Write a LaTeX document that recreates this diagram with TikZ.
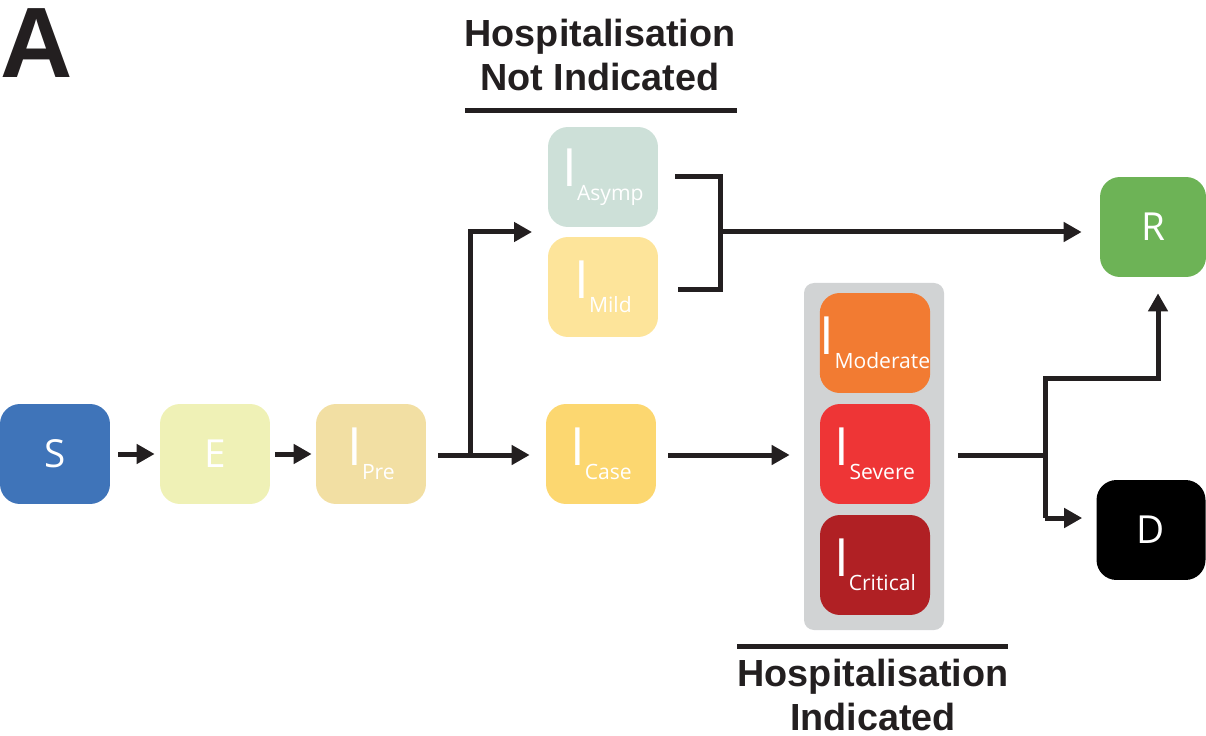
\documentclass[tikz,border=0pt]{standalone}
\usepackage{fontspec}
\setmainfont{Liberation Sans}
\newfontfamily\boxfont{Open Sans}
\usetikzlibrary{arrows.meta,positioning}

\definecolor{colS}{HTML}{3F74B9}
\definecolor{colE}{HTML}{EFF1B6}
\definecolor{colPre}{HTML}{F2DFA3}
\definecolor{colAsymp}{HTML}{CDE0D8}
\definecolor{colMild}{HTML}{FDE49A}
\definecolor{colCase}{HTML}{FCD770}
\definecolor{colModerate}{HTML}{F27B32}
\definecolor{colSevere}{HTML}{EE3536}
\definecolor{colCritical}{HTML}{B02024}
\definecolor{colR}{HTML}{6DB356}
\definecolor{colHosp}{HTML}{D1D3D4}
\definecolor{ink}{HTML}{231F20}

\tikzset{
  comp/.style={rounded corners=0.4cm, minimum width=2.2cm, minimum height=2cm,
    inner sep=0pt, text=white, font=\boxfont\fontsize{22}{22}\selectfont},
  link/.style={draw=ink, line width=0.1cm},
  arr/.style={link, -{Triangle[length=0.36cm,width=0.38cm]}},
  heading/.style={align=center, text=ink, font=\bfseries\fontsize{21.5}{25}\selectfont}
}
\newcommand{\Isub}[1]{{\fontsize{30}{30}\selectfont I}\raisebox{-0.28cm}{\fontsize{12}{12}\selectfont #1}}

\begin{document}
\begin{tikzpicture}[x=0.02cm, y=-0.02cm]
  \useasboundingbox (0,0) rectangle (1206,736);
  % panel letter
  \node[anchor=north west, inner sep=0pt, font=\bfseries\fontsize{57}{57}\selectfont, text=ink] (panel) at (0,8) {A};
  % hospital box
  \fill[colHosp, rounded corners=0.2cm] (804,283) rectangle (944,630);
  % compartments
  \node[comp, fill=colS] (S) at (55,454) {S};
  \node[comp, fill=colE] (E) at (215,454) {E};
  \node[comp, fill=colPre] (Ipre) at (371,454) {\Isub{Pre}};
  \node[comp, fill=colAsymp] (Iasymp) at (603,177) {\Isub{Asymp}};
  \node[comp, fill=colMild] (Imild) at (603,287) {\Isub{Mild}};
  \node[comp, fill=colCase] (Icase) at (601,454) {\Isub{Case}};
  \node[comp, fill=colModerate] (Imoderate) at (875,343) {\Isub{Moderate}};
  \node[comp, fill=colSevere] (Isevere) at (875,454) {\Isub{Severe}};
  \node[comp, fill=colCritical] (Icritical) at (875,565) {\Isub{Critical}};
  \node[comp, fill=colR, minimum width=2.12cm] (R) at (1153,227) {R};
  \node[comp, fill=black, minimum width=2.18cm] (D) at (1151,530) {D};
  % headings
  \node[heading] (nothosp) at (600,55) {Hospitalisation\\Not Indicated};
  \node[heading] (hosp) at (873,695) {Hospitalisation\\Indicated};
  \draw[link] (465,111) -- (737,111);
  \draw[link] (737,646) -- (1008,646);
  % junctions
  \coordinate (split1) at (470,455);
  \coordinate (mildasymp) at (548,232);
  \coordinate (join) at (720,232);
  \coordinate (split2) at (1045,455);
  \coordinate (up) at (1158,378);
  \coordinate (down) at (1045,518);
  \begin{scope}[shorten <=0cm]
    \draw[arr, shorten <=0.16cm, shorten >=0.1cm] (S) -- (E);
    \draw[arr, shorten <=0.1cm, shorten >=0.08cm] (E) -- (Ipre);
    \draw[link, shorten <=0.24cm] (Ipre.east |- split1) -- (split1);
    \draw[arr, shorten >=0.32cm] (split1) |- (mildasymp);
    \draw[arr, shorten >=0.32cm] (split1) -- (Icase.west |- split1);
    \draw[link, shorten <=0.34cm, shorten >=0.4cm] (Iasymp.east) -| (join) |- (Imild.east |- 0,290);
    \draw[arr, shorten >=0.36cm] (join) -- (R.west |- join);
    \draw[arr, shorten <=0.24cm, shorten >=0.6cm] (Icase.east |- split1) -- (Isevere.west |- split1);
    \draw[link, shorten <=0.56cm] (Isevere.east |- split2) -- (split2);
    \draw[link] (split2) -- (down);
    \draw[arr] (split2) |- (up) -- ([yshift=-0.32cm]up |- R.south);
    \draw[arr, shorten >=0.28cm] (down) -- (D.west |- down);
  \end{scope}
\end{tikzpicture}
\end{document}
